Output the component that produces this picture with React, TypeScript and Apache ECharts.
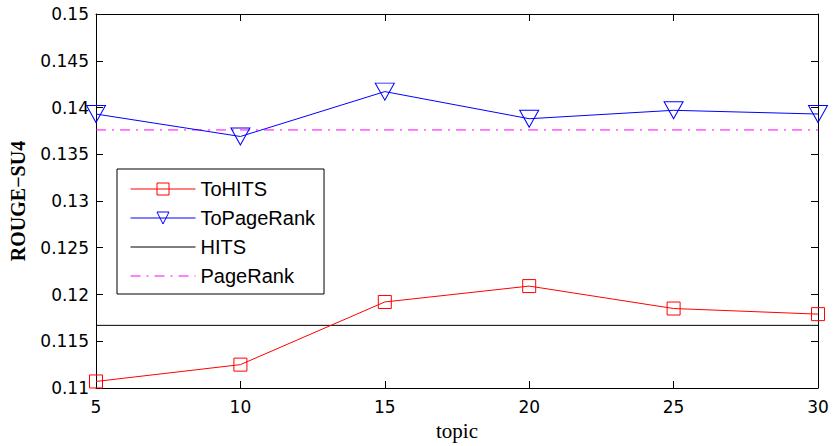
import React, { useEffect, useRef } from "react";
import * as echarts from "echarts";

const topics = [5, 10, 15, 20, 25, 30];
const toHits = [0.1107, 0.1125, 0.1192, 0.1209, 0.1185, 0.1179];
const toPageRank = [0.1393, 0.1369, 0.1417, 0.1388, 0.1397, 0.1393];
const hitsValue = 0.1167;
const pageRankValue = 0.1376;

const tickFont = "DejaVu Sans";

export default function App() {
  const ref = useRef<HTMLDivElement>(null);
  useEffect(() => {
    if (!ref.current) return;
    const chart = echarts.init(ref.current, null, { renderer: "svg" });
    const yFmt = (v: number) => String(+v.toFixed(3));
    const axisLine = { show: true, lineStyle: { color: "#000", width: 1 } };
    const axisTick = { show: true, inside: true, length: 7, lineStyle: { color: "#000", width: 1 } };
    chart.setOption({
      animation: false,
      backgroundColor: "#fff",
      grid: { left: 94, right: 15, top: 14, bottom: 56, containLabel: false },
      xAxis: [
        {
          type: "value",
          min: 5,
          max: 30,
          interval: 5,
          position: "bottom",
          axisLine,
          axisTick,
          splitLine: { show: false },
          axisLabel: { color: "#000", fontFamily: tickFont, fontSize: 17, margin: 10 },
          name: "topic",
          nameLocation: "middle",
          nameGap: 32,
          nameTextStyle: { color: "#000", fontFamily: "Liberation Serif", fontSize: 21 },
        },
        {
          type: "value",
          min: 5,
          max: 30,
          interval: 5,
          position: "top",
          axisLine,
          axisTick,
          splitLine: { show: false },
          axisLabel: { show: false },
        },
      ],
      yAxis: [
        {
          type: "value",
          min: 0.11,
          max: 0.15,
          interval: 0.005,
          position: "left",
          axisLine,
          axisTick,
          splitLine: { show: false },
          axisLabel: { color: "#000", fontFamily: tickFont, fontSize: 17, margin: 7, formatter: yFmt },
          name: "ROUGE\u2212SU4",
          nameLocation: "middle",
          nameGap: 68,
          nameTextStyle: { color: "#000", fontFamily: "Liberation Serif", fontSize: 20, fontWeight: "bold" },
        },
        {
          type: "value",
          min: 0.11,
          max: 0.15,
          interval: 0.005,
          position: "right",
          axisLine,
          axisTick,
          splitLine: { show: false },
          axisLabel: { show: false },
        },
      ],
      legend: {
        orient: "vertical",
        left: 117,
        top: 169,
        padding: [10, 9, 8, 13],
        itemGap: 9,
        itemWidth: 65,
        itemHeight: 15,
        borderColor: "#000",
        borderWidth: 1,
        borderRadius: 0,
        backgroundColor: "#fff",
        lineStyle: { width: 1 },
        itemStyle: { borderWidth: 1 },
        textStyle: { color: "#000", fontFamily: "Liberation Sans", fontSize: 20 },
        data: [
          "ToHITS",
          "ToPageRank",
          { name: "HITS", itemStyle: { opacity: 0 } },
          { name: "PageRank", itemStyle: { opacity: 0 } },
        ],
      },
      series: [
        {
          name: "ToHITS",
          type: "line",
          data: topics.map((t, i) => [t, toHits[i]]),
          symbol: "rect",
          symbolSize: 13,
          itemStyle: { color: "none", borderColor: "#ff0000", borderWidth: 1 },
          lineStyle: { color: "#ff0000", width: 1 },
          z: 5,
        },
        {
          name: "ToPageRank",
          type: "line",
          data: topics.map((t, i) => [t, toPageRank[i]]),
          symbol: "triangle",
          symbolRotate: 180,
          symbolSize: [19, 17],
          itemStyle: { color: "none", borderColor: "#0000ff", borderWidth: 1 },
          lineStyle: { color: "#0000ff", width: 1 },
          z: 5,
        },
        {
          name: "HITS",
          type: "line",
          data: [topics[0], topics[topics.length - 1]].map((t) => [t, hitsValue]),
          symbol: "none",
          itemStyle: { color: "#000" },
          lineStyle: { color: "#000", width: 1 },
          z: 3,
        },
        {
          name: "PageRank",
          type: "line",
          data: [topics[0], topics[topics.length - 1]].map((t) => [t, pageRankValue]),
          symbol: "none",
          itemStyle: { color: "#ff00ff" },
          lineStyle: { color: "#ff00ff", width: 1, type: [10, 6, 2, 6] },
          z: 3,
        },
      ],
    });
    return () => chart.dispose();
  }, []);
  return (
    <div
      ref={ref}
      style={{ position: "fixed", left: 0, top: 0, width: 833, height: 446, background: "#fff" }}
    />
  );
}
